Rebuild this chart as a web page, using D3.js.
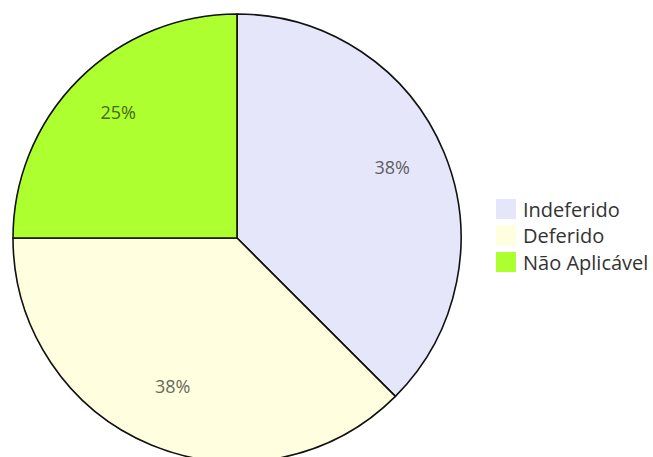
<!DOCTYPE html>
<html>
<head>
<meta charset="utf-8">
<script src="https://cdn.jsdelivr.net/npm/d3@7"></script>
<style>
  html, body { margin: 0; padding: 0; background: #fff; }
  svg { display: block; font-family: "Open Sans", "Noto Sans", sans-serif; }
</style>
</head>
<body>
<svg id="chart" width="653" height="457"></svg>
<script>
const categories = ["Indeferido", "Deferido", "Não Aplicável"];
const values = [3, 3, 2];
const colors = ["#E6E6FA", "#FFFFE0", "#ADFF2F"];

const svg = d3.select("#chart");
const cx = 237, cy = 238, R = 224;

const data = categories.map((c, i) => ({ cat: c, value: values[i], color: colors[i] }));
const total = d3.sum(values);

const pie = d3.pie().value(d => d.value).sort(null);
const arc = d3.arc().innerRadius(0).outerRadius(R);
const labelArc = d3.arc().innerRadius(R * 0.75).outerRadius(R * 0.75);

const g = svg.append("g").attr("transform", `translate(${cx},${cy})`);
const arcs = pie(data);

g.selectAll("path").data(arcs).join("path")
  .attr("d", arc)
  .attr("fill", d => d.data.color)
  .attr("stroke", "#111")
  .attr("stroke-width", 1.6)
  .attr("stroke-linejoin", "round");

g.selectAll("text").data(arcs).join("text")
  .attr("transform", d => `translate(${labelArc.centroid(d)})`)
  .attr("text-anchor", "middle")
  .attr("font-size", 18)
  .attr("fill", d => d3.color(d.data.color).darker(2.5))
  .text(d => d3.format(".0%")(d.data.value / total));

const legend = svg.append("g").attr("transform", "translate(496,199)");
const rows = legend.selectAll("g").data(data).join("g")
  .attr("transform", (d, i) => `translate(0,${i * 26.5})`);
rows.append("rect").attr("width", 20).attr("height", 20).attr("fill", d => d.color);
rows.append("text")
  .attr("x", 27).attr("y", 10)
  .attr("dominant-baseline", "central")
  .attr("font-size", 20)
  .attr("fill", "#333")
  .text(d => d.cat);
</script>
</body>
</html>
